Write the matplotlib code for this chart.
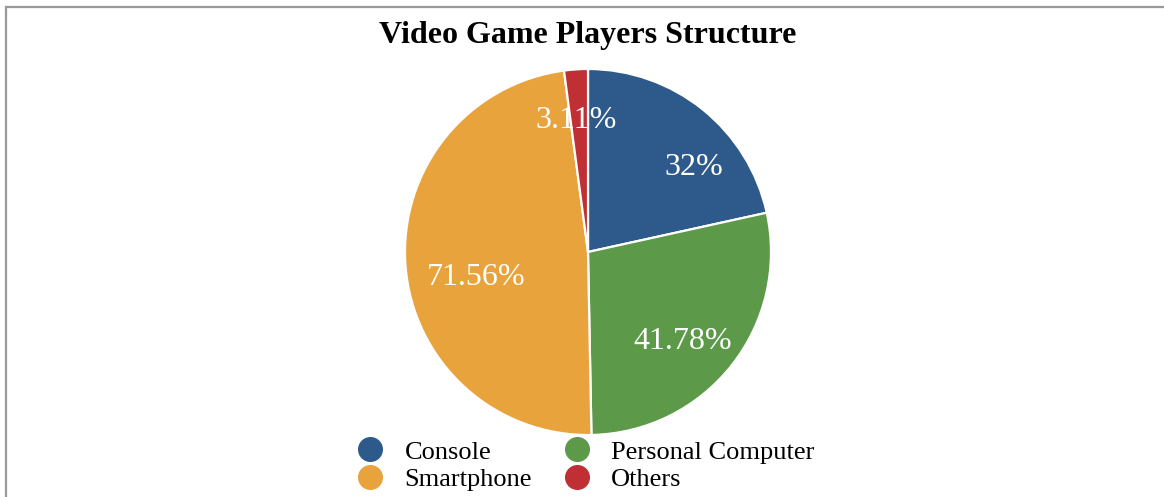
import matplotlib
matplotlib.use("Agg")
import matplotlib.pyplot as plt
from matplotlib.lines import Line2D
from matplotlib.patches import Rectangle

plt.rcParams['font.family'] = ['Liberation Serif', 'DejaVu Serif']

# Player share per platform (labels show the raw value)
platforms = ['Console', 'Personal Computer', 'Smartphone', 'Others']
shares = [32, 41.78, 71.56, 3.11]
colors = ['#2E5A8B', '#5C9A4A', '#E8A33C', '#BF2F33']
# where each value label sits inside the pie (unit-radius coordinates)
label_pos = [(0.577, 0.460), (0.516, -0.491), (-0.609, -0.141), (-0.063, 0.720)]

W, H = 1164, 497
fig = plt.figure(figsize=(W / 100, H / 100), dpi=100)

# pie area: centre (588, 252) px, radius 183 px
cx, cy, r = 588, 252, 183
ax = fig.add_axes([(cx - r) / W, (H - cy - r) / H, 2 * r / W, 2 * r / H])
wedges, _ = ax.pie(shares, colors=colors, startangle=90, counterclock=False,
                   wedgeprops=dict(edgecolor='white', linewidth=1.6))
for v, (x, y) in zip(shares, label_pos):
    ax.text(x, y, f'{v:g}%', color='white', fontsize=23, ha='center', va='center')
ax.set_xlim(-1, 1)
ax.set_ylim(-1, 1)
ax.set_aspect('equal')

fig.text(cx / W, 1 - 36 / H, 'Video Game Players Structure', ha='center', va='center',
         fontsize=23, fontweight='bold')

# legend is filled column by column, so interleave to get row order
order = [0, 2, 1, 3]
handles = [Line2D([], [], linestyle='none', marker='o', markersize=17,
                  markerfacecolor=colors[i], markeredgecolor=colors[i]) for i in order]
fig.legend(handles, [platforms[i] for i in order], loc='lower left',
           bbox_to_anchor=(357 / W, 6 / H),
           ncol=2, frameon=False, fontsize=19, handlelength=1.0, handletextpad=0.8,
           columnspacing=1.2, labelspacing=0.15, borderpad=0, borderaxespad=0)

# outer frame (only top and left edges fall inside the image)
fig.add_artist(Rectangle((6 / W, -0.2), 1.5, 0.2 + (H - 7) / H,
                         transform=fig.transFigure, fill=False,
                         edgecolor='#999999', linewidth=1.6))

fig.savefig('out.png', dpi=100)
